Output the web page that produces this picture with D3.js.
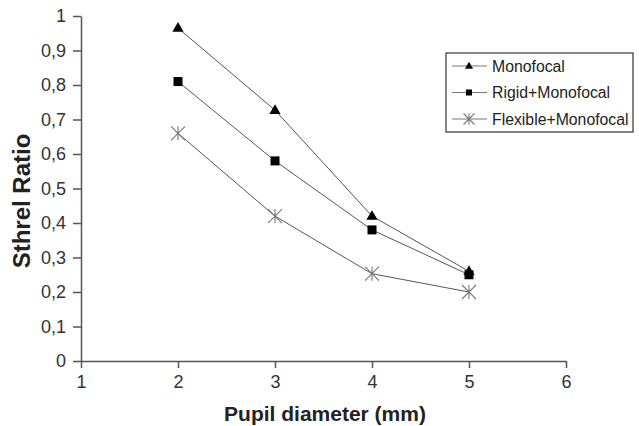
<!DOCTYPE html>
<html>
  <head>
    <meta charset="UTF-8" />
    <style>
      body {
        margin: 0;
        background-color: #fff;
      }
      text {
        font-family: "Liberation Sans", Arial, sans-serif;
        fill: #222;
      }
      .axis path,
      .axis line {
        stroke: #555;
        stroke-width: 1.5;
      }
      .axis text {
        font-size: 18px;
        fill: #333;
      }
    </style>
  </head>

  <body>
    <svg width="639" height="426"></svg>

    <script src="https://d3js.org/d3.v7.min.js"></script>
    <script>
      var diameters = [2, 3, 4, 5];
      var seriesNames = ["Monofocal", "Rigid+Monofocal", "Flexible+Monofocal"];
      var monofocal = [0.965, 0.727, 0.42, 0.26];
      var rigid = [0.81, 0.58, 0.38, 0.25];
      var flexible = [0.66, 0.42, 0.253, 0.2];
      var xTicks = [1, 2, 3, 4, 5, 6];
      var yTicks = [0, 0.1, 0.2, 0.3, 0.4, 0.5, 0.6, 0.7, 0.8, 0.9, 1];

      const svg = d3.select("svg");

      const xScale = d3.scaleLinear().domain([1, 6]).range([81, 566]);
      const yScale = d3.scaleLinear().domain([0, 1]).range([361, 16]);

      const fmt = (d) => String(d).replace(".", ",");

      svg
        .append("g")
        .attr("class", "axis")
        .attr("transform", "translate(0," + yScale(0) + ")")
        .call(
          d3.axisBottom(xScale).tickValues(xTicks).tickSize(7).tickSizeOuter(0).tickPadding(7).tickFormat(d3.format("d"))
        );

      svg
        .append("g")
        .attr("class", "axis")
        .attr("transform", "translate(" + xScale(1) + ",0)")
        .call(d3.axisLeft(yScale).tickValues(yTicks).tickSize(8).tickSizeOuter(0).tickPadding(7).tickFormat(fmt));

      const series = [
        { name: seriesNames[0], values: monofocal, marker: "tri" },
        { name: seriesNames[1], values: rigid, marker: "sq" },
        { name: seriesNames[2], values: flexible, marker: "star" },
      ];

      const line = d3
        .line()
        .x((d) => xScale(d[0]))
        .y((d) => yScale(d[1]));

      function drawMarker(g, type, x, y, s) {
        if (type === "tri") {
          g.append("path")
            .attr("d", d3.symbol(d3.symbolTriangle, s * s * 0.45)())
            .attr("transform", "translate(" + x + "," + (y + 0.5) + ")")
            .attr("fill", "#000");
        } else if (type === "sq") {
          g.append("rect")
            .attr("x", x - s / 2 + 1)
            .attr("y", y - s / 2 + 1)
            .attr("width", s - 2)
            .attr("height", s - 2)
            .attr("fill", "#000");
        } else {
          const r = s / 2 + 1.5;
          g.append("path")
            .attr(
              "d",
              "M" + (x - r) + "," + (y - r) + "L" + (x + r) + "," + (y + r) +
                "M" + (x - r) + "," + (y + r) + "L" + (x + r) + "," + (y - r) +
                "M" + x + "," + (y - r) + "L" + x + "," + (y + r)
            )
            .attr("stroke", "#777")
            .attr("stroke-width", 1.1)
            .attr("fill", "none");
        }
      }

      series.forEach((s) => {
        const pts = diameters.map((d, i) => [d, s.values[i]]);
        svg
          .append("path")
          .attr("d", line(pts))
          .attr("fill", "none")
          .attr("stroke", "#555")
          .attr("stroke-width", 1);
        const g = svg.append("g");
        pts.forEach((p) => drawMarker(g, s.marker, xScale(p[0]), yScale(p[1]), 11));
      });

      // legend
      const legend = svg.append("g").attr("transform", "translate(446,53)");
      legend
        .append("rect")
        .attr("width", 187)
        .attr("height", 79)
        .attr("fill", "#fff")
        .attr("stroke", "#333")
        .attr("stroke-width", 1.2);
      series.forEach((s, i) => {
        const y = 13 + i * 26.5;
        legend
          .append("line")
          .attr("x1", 6)
          .attr("x2", 41)
          .attr("y1", y)
          .attr("y2", y)
          .attr("stroke", "#777")
          .attr("stroke-width", 1);
        drawMarker(legend, s.marker, 23, y, 8);
        legend
          .append("text")
          .attr("x", 46)
          .attr("y", y)
          .attr("dy", "0.35em")
          .style("font-size", "15.8px")
          .text(s.name);
      });

      svg
        .append("text")
        .attr("x", -201)
        .attr("y", 30)
        .attr("transform", "rotate(-90)")
        .attr("text-anchor", "middle")
        .style("font-size", "24px")
        .style("font-weight", "bold")
        .text("Sthrel Ratio");

      svg
        .append("text")
        .attr("x", 325)
        .attr("y", 421)
        .attr("text-anchor", "middle")
        .style("font-size", "21px")
        .style("font-weight", "bold")
        .text("Pupil diameter (mm)");
    </script>
  </body>
</html>
